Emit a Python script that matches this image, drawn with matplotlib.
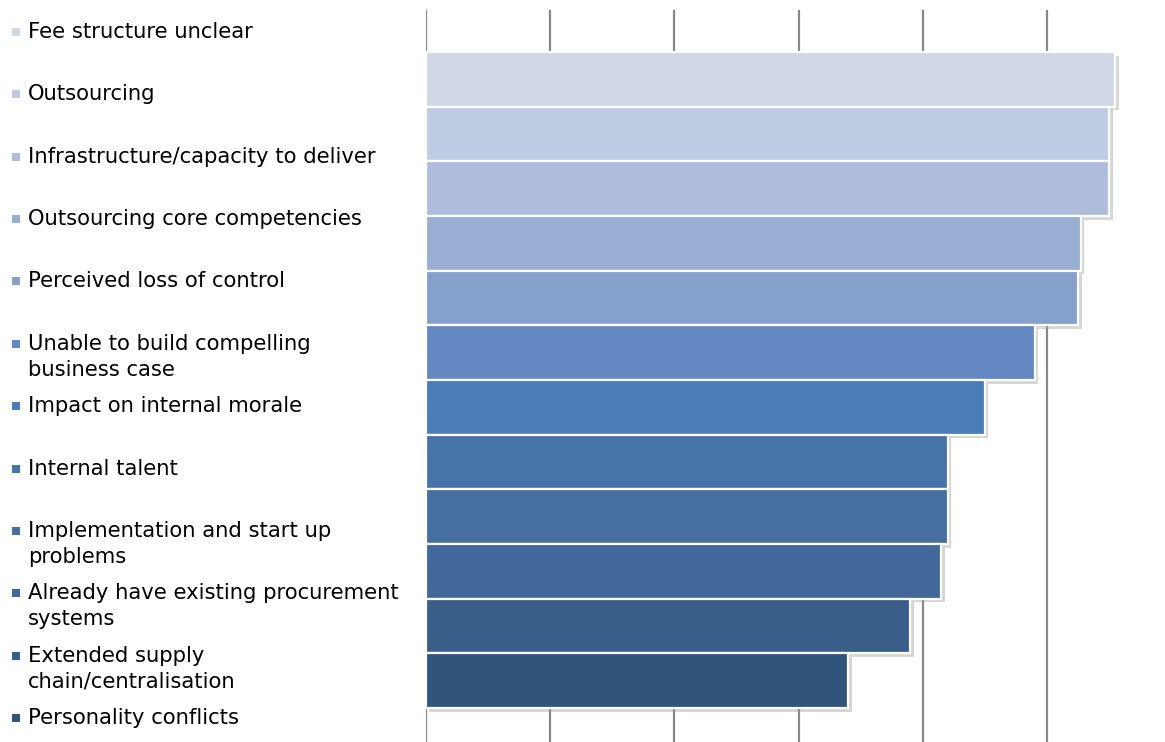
import numpy as np
import matplotlib
matplotlib.use("Agg")
import matplotlib.pyplot as plt
import matplotlib.patheffects as pe

# barreras para adoptar el servicio (% de respuestas)
labels = ["Fee structure unclear",
          "Outsourcing",
          "Infrastructure/capacity to deliver",
          "Outsourcing core competencies",
          "Perceived loss of control",
          "Unable to build compelling\nbusiness case",
          "Impact on internal morale",
          "Internal talent",
          "Implementation and start up\nproblems",
          "Already have existing procurement\nsystems",
          "Extended supply\nchain/centralisation",
          "Personality conflicts"]
values = [55.5, 55.0, 55.0, 52.7, 52.5, 49.0, 45.0, 42.0, 42.0, 41.5, 39.0, 34.0]
colores = ["#D0D8E8", "#BFCBE2", "#ADBDDB", "#98AED3", "#85A0CB", "#6489C2",
           "#4B7DB8", "#4873A8", "#456EA1", "#416898", "#395E8A", "#31547B"]

W, H = 1165, 742
fig = plt.figure(figsize=(W/100, H/100), dpi=100)
ax = fig.add_axes([426/W, 0, 1 - 426/W, 1 - 10/H])

n = len(values)
y = np.arange(n)
sombra = [pe.SimplePatchShadow(offset=(2.5, -2.5), shadow_rgbFace="#999999", alpha=0.4), pe.Normal()]
for i in range(n):
    b = ax.barh(y[i], values[i], height=1.0, color=colores[i], edgecolor="white",
                linewidth=1.6, zorder=3)
    b[0].set_path_effects(sombra)

ax.set_xlim(0, (W - 426)/12.42)
ax.set_ylim(n - 0.5 + 0.62, -0.5 - 0.77)
ax.set_xticks(np.arange(0, 60, 10))
ax.xaxis.grid(True, color="#878787", lw=1.6, zorder=0)
ax.set_axisbelow(True)
ax.tick_params(length=0, labelbottom=False, labelleft=False)
ax.set_yticks([])
for s in ax.spines.values():
    s.set_visible(False)

# leyenda manual a la izquierda
paso = (718 - 32)/(n - 1)
for i, lab in enumerate(labels):
    yc = 1 - (32 + i*paso)/H
    fig.patches.append(plt.Rectangle((12/W, yc - 4/H), 8/W, 8/H, transform=fig.transFigure,
                                     facecolor=colores[i], edgecolor="none"))
    fig.text(28/W, yc + 10/H, lab, fontsize=15.2, family="DejaVu Sans", color="#000000",
             va="top", ha="left", linespacing=1.38)

fig.savefig("out.png", dpi=100)
